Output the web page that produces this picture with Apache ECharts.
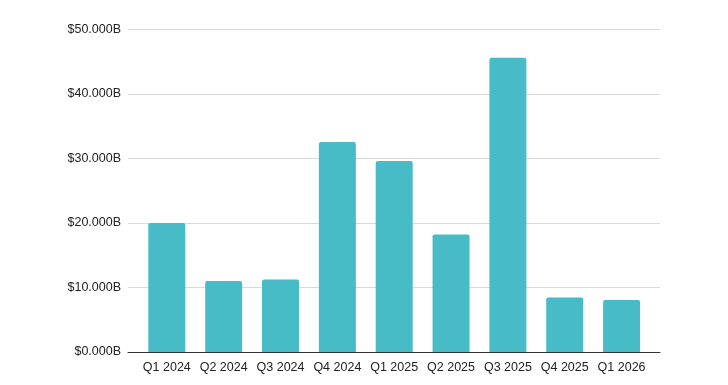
<!DOCTYPE html>
<html><head><meta charset="utf-8">
<script src="https://cdn.jsdelivr.net/npm/echarts@6/dist/echarts.min.js"></script>
<style>html,body{margin:0;padding:0;background:#fff}#c{width:728px;height:385px}</style>
</head><body><div id="c"></div>
<script>
const categories = ['Q1 2024','Q2 2024','Q3 2024','Q4 2024','Q1 2025','Q2 2025','Q3 2025','Q4 2025','Q1 2026'];
const values = [20.0, 11.0, 11.25, 32.55, 29.6, 18.2, 45.6, 8.45, 8.05];
const yTicks = [0, 10, 20, 30, 40, 50];

const chart = echarts.init(document.getElementById('c'), null, {renderer:'canvas'});
const font = 'Liberation Sans, Arial, sans-serif';
chart.setOption({
  animation:false,
  backgroundColor:'#fff',
  grid:[
    {left:128, right:68, top:29.3, bottom:33},
    {left:138.4, right:78, top:29.3, bottom:33}
  ],
  xAxis:[
    {gridIndex:0, type:'value', min:0, max:1, axisLabel:{show:false}, axisTick:{show:false}, splitLine:{show:false},
     axisLine:{show:true, lineStyle:{color:'#333', width:1}}},
    {gridIndex:1, type:'category', data:categories, axisLine:{show:false}, axisTick:{show:false},
     axisLabel:{color:'#222', fontSize:12.5, fontFamily:font, margin:9, interval:0}}
  ],
  yAxis:[
    {gridIndex:0, type:'value', min:yTicks[0], max:yTicks[yTicks.length-1], interval:10,
     axisLine:{show:false}, axisTick:{show:false},
     splitLine:{lineStyle:{color:'#d9d9d9', width:1}},
     axisLabel:{color:'#222', fontSize:12.5, fontFamily:font, margin:7,
       formatter:v=>'$'+v.toFixed(3)+'B'}},
    {gridIndex:1, type:'value', min:yTicks[0], max:yTicks[yTicks.length-1], interval:10,
     show:false}
  ],
  series:[{
    type:'bar', xAxisIndex:1, yAxisIndex:1, data:values, barWidth:37,
    itemStyle:{color:'#47bcc6', borderRadius:[2,2,0,0]}, z:1
  }]
});
</script></body></html>
